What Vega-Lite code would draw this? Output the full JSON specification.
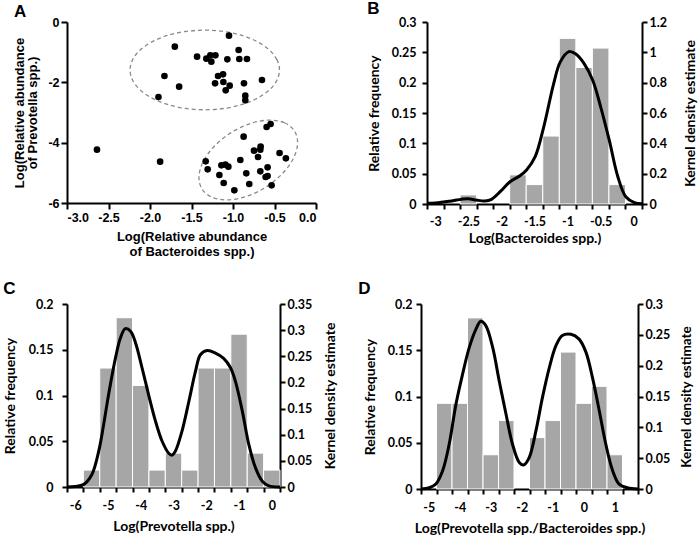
{
  "$schema": "https://vega.github.io/schema/vega-lite/v6.json",
  "padding": {"left": 3, "top": 0, "right": 0, "bottom": 0},
  "background": "white",
  "config": {
    "view": {"stroke": null},
    "axis": {"grid": false, "domainColor": "#000", "tickColor": "#000", "labelColor": "#000", "titleColor": "#000", "domainWidth": 2, "tickWidth": 2, "zindex": 1}
  },
  "datasets": {
    "ptsA": [
      {"x": -1.048, "y": -0.453}, {"x": -1.701, "y": -0.818}, {"x": -0.932, "y": -0.928}, {"x": -1.433, "y": -1.149},
      {"x": -1.321, "y": -1.215}, {"x": -1.273, "y": -1.105}, {"x": -1.212, "y": -1.105}, {"x": -1.261, "y": -1.315},
      {"x": -1.068, "y": -1.238}, {"x": -0.924, "y": -1.227}, {"x": -0.832, "y": -1.227}, {"x": -1.826, "y": -1.79},
      {"x": -1.649, "y": -2.144}, {"x": -1.898, "y": -2.486}, {"x": -1.18, "y": -1.79}, {"x": -1.12, "y": -1.735},
      {"x": -1.216, "y": -2.033}, {"x": -1.116, "y": -1.989}, {"x": -1.04, "y": -2.11}, {"x": -1.088, "y": -2.265},
      {"x": -0.868, "y": -2.033}, {"x": -0.651, "y": -1.923}, {"x": -0.852, "y": -2.442}, {"x": -0.852, "y": -2.597},
      {"x": -0.547, "y": -3.381}, {"x": -0.595, "y": -3.481}, {"x": -0.872, "y": -3.801}, {"x": -0.747, "y": -4.265},
      {"x": -0.667, "y": -4.133}, {"x": -0.671, "y": -4.232}, {"x": -0.699, "y": -4.475}, {"x": -0.439, "y": -4.343},
      {"x": -0.363, "y": -4.519}, {"x": -1.329, "y": -4.619}, {"x": -1.305, "y": -4.884}, {"x": -1.14, "y": -4.751},
      {"x": -1.092, "y": -4.729}, {"x": -1.056, "y": -4.796}, {"x": -0.912, "y": -4.575}, {"x": -1.164, "y": -5.072},
      {"x": -1.112, "y": -5.337}, {"x": -0.84, "y": -5.017}, {"x": -0.984, "y": -5.58}, {"x": -0.804, "y": -5.37},
      {"x": -0.671, "y": -4.95}, {"x": -0.583, "y": -4.818}, {"x": -0.607, "y": -5.138}, {"x": -0.583, "y": -5.105},
      {"x": -0.535, "y": -5.414}, {"x": -2.639, "y": -4.232}, {"x": -1.878, "y": -4.63}
    ],
    "ellA": [
      {"e": 1, "i": 0, "x": -0.44, "y": -1.59}, {"e": 1, "i": 1, "x": -0.471, "y": -1.248}, {"e": 1, "i": 2, "x": -0.561, "y": -0.93},
      {"e": 1, "i": 3, "x": -0.704, "y": -0.657}, {"e": 1, "i": 4, "x": -0.89, "y": -0.447}, {"e": 1, "i": 5, "x": -1.107, "y": -0.315},
      {"e": 1, "i": 6, "x": -1.34, "y": -0.27}, {"e": 1, "i": 7, "x": -1.573, "y": -0.315}, {"e": 1, "i": 8, "x": -1.79, "y": -0.447},
      {"e": 1, "i": 9, "x": -1.976, "y": -0.657}, {"e": 1, "i": 10, "x": -2.119, "y": -0.93}, {"e": 1, "i": 11, "x": -2.209, "y": -1.248},
      {"e": 1, "i": 12, "x": -2.24, "y": -1.59}, {"e": 1, "i": 13, "x": -2.209, "y": -1.932}, {"e": 1, "i": 14, "x": -2.119, "y": -2.25},
      {"e": 1, "i": 15, "x": -1.976, "y": -2.523}, {"e": 1, "i": 16, "x": -1.79, "y": -2.733}, {"e": 1, "i": 17, "x": -1.573, "y": -2.865},
      {"e": 1, "i": 18, "x": -1.34, "y": -2.91}, {"e": 1, "i": 19, "x": -1.107, "y": -2.865}, {"e": 1, "i": 20, "x": -0.89, "y": -2.733},
      {"e": 1, "i": 21, "x": -0.704, "y": -2.523}, {"e": 1, "i": 22, "x": -0.561, "y": -2.25}, {"e": 1, "i": 23, "x": -0.471, "y": -1.932},
      {"e": 2, "i": 0, "x": -0.2585, "y": -3.615}, {"e": 2, "i": 1, "x": -0.38, "y": -3.34}, {"e": 2, "i": 2, "x": -0.568, "y": -3.253},
      {"e": 2, "i": 3, "x": -0.7925, "y": -3.367}, {"e": 2, "i": 4, "x": -1.022, "y": -3.666}, {"e": 2, "i": 5, "x": -1.2195, "y": -4.103},
      {"e": 2, "i": 6, "x": -1.356, "y": -4.611}, {"e": 2, "i": 7, "x": -1.41, "y": -5.114}, {"e": 2, "i": 8, "x": -1.3735, "y": -5.535},
      {"e": 2, "i": 9, "x": -1.252, "y": -5.81}, {"e": 2, "i": 10, "x": -1.064, "y": -5.897}, {"e": 2, "i": 11, "x": -0.8395, "y": -5.783},
      {"e": 2, "i": 12, "x": -0.61, "y": -5.484}, {"e": 2, "i": 13, "x": -0.4125, "y": -5.047}, {"e": 2, "i": 14, "x": -0.276, "y": -4.539},
      {"e": 2, "i": 15, "x": -0.222, "y": -4.036}
    ],
    "barsB": [
      {"lo": -2.625, "hi": -2.375, "f": 0.015}, {"lo": -1.875, "hi": -1.625, "f": 0.048}, {"lo": -1.625, "hi": -1.375, "f": 0.032},
      {"lo": -1.375, "hi": -1.125, "f": 0.112}, {"lo": -1.125, "hi": -0.875, "f": 0.273}, {"lo": -0.875, "hi": -0.625, "f": 0.225},
      {"lo": -0.625, "hi": -0.375, "f": 0.257}, {"lo": -0.375, "hi": -0.125, "f": 0.032}
    ],
    "kdeB": [
      {"x": -3.12, "d": 0.005}, {"x": -3.0, "d": 0.007}, {"x": -2.79, "d": 0.018}, {"x": -2.6, "d": 0.032}, {"x": -2.5, "d": 0.035},
      {"x": -2.38, "d": 0.026}, {"x": -2.25, "d": 0.02}, {"x": -2.15, "d": 0.031}, {"x": -2.02, "d": 0.081}, {"x": -1.87, "d": 0.147},
      {"x": -1.72, "d": 0.186}, {"x": -1.62, "d": 0.224}, {"x": -1.49, "d": 0.312}, {"x": -1.36, "d": 0.509}, {"x": -1.21, "d": 0.794},
      {"x": -1.11, "d": 0.937}, {"x": -0.98, "d": 1.005}, {"x": -0.88, "d": 0.99}, {"x": -0.75, "d": 0.926}, {"x": -0.62, "d": 0.816},
      {"x": -0.5, "d": 0.641}, {"x": -0.37, "d": 0.421}, {"x": -0.24, "d": 0.18}, {"x": -0.12, "d": 0.048}, {"x": 0.01, "d": 0.009},
      {"x": 0.125, "d": 0.001}
    ],
    "barsC": [
      {"lo": -5.75, "hi": -5.25, "f": 0.0185}, {"lo": -5.25, "hi": -4.75, "f": 0.13}, {"lo": -4.75, "hi": -4.25, "f": 0.185},
      {"lo": -4.25, "hi": -3.75, "f": 0.111}, {"lo": -3.75, "hi": -3.25, "f": 0.0185}, {"lo": -3.25, "hi": -2.75, "f": 0.037},
      {"lo": -2.75, "hi": -2.25, "f": 0.0185}, {"lo": -2.25, "hi": -1.75, "f": 0.13}, {"lo": -1.75, "hi": -1.25, "f": 0.13},
      {"lo": -1.25, "hi": -0.75, "f": 0.167}, {"lo": -0.75, "hi": -0.25, "f": 0.037}, {"lo": -0.25, "hi": 0.25, "f": 0.0185}
    ],
    "kdeC": [
      {"x": -6.25, "d": 0}, {"x": -6.0, "d": 0.001}, {"x": -5.74, "d": 0.005}, {"x": -5.49, "d": 0.024}, {"x": -5.28, "d": 0.069},
      {"x": -5.13, "d": 0.12}, {"x": -4.98, "d": 0.177}, {"x": -4.77, "d": 0.247}, {"x": -4.62, "d": 0.285}, {"x": -4.47, "d": 0.303},
      {"x": -4.31, "d": 0.298}, {"x": -4.16, "d": 0.276}, {"x": -3.96, "d": 0.228}, {"x": -3.75, "d": 0.174}, {"x": -3.55, "d": 0.126},
      {"x": -3.35, "d": 0.088}, {"x": -3.14, "d": 0.064}, {"x": -3.05, "d": 0.061}, {"x": -2.94, "d": 0.069}, {"x": -2.74, "d": 0.107},
      {"x": -2.53, "d": 0.164}, {"x": -2.33, "d": 0.221}, {"x": -2.18, "d": 0.253}, {"x": -1.97, "d": 0.261}, {"x": -1.72, "d": 0.256},
      {"x": -1.47, "d": 0.246}, {"x": -1.26, "d": 0.228}, {"x": -1.11, "d": 0.202}, {"x": -0.9, "d": 0.145}, {"x": -0.7, "d": 0.081},
      {"x": -0.5, "d": 0.037}, {"x": -0.29, "d": 0.011}, {"x": -0.09, "d": 0.002}, {"x": 0.25, "d": 0}
    ],
    "barsD": [
      {"lo": -4.75, "hi": -4.25, "f": 0.0926}, {"lo": -4.25, "hi": -3.75, "f": 0.0926}, {"lo": -3.75, "hi": -3.25, "f": 0.185},
      {"lo": -3.25, "hi": -2.75, "f": 0.037}, {"lo": -2.75, "hi": -2.25, "f": 0.074}, {"lo": -1.75, "hi": -1.25, "f": 0.0556},
      {"lo": -1.25, "hi": -0.75, "f": 0.074}, {"lo": -0.75, "hi": -0.25, "f": 0.148}, {"lo": -0.25, "hi": 0.25, "f": 0.0926},
      {"lo": 0.25, "hi": 0.75, "f": 0.111}, {"lo": 0.75, "hi": 1.25, "f": 0.037}
    ],
    "kdeD": [
      {"x": -5.25, "d": 0}, {"x": -4.98, "d": 0.002}, {"x": -4.77, "d": 0.008}, {"x": -4.55, "d": 0.03}, {"x": -4.34, "d": 0.073},
      {"x": -4.12, "d": 0.138}, {"x": -3.91, "d": 0.186}, {"x": -3.69, "d": 0.23}, {"x": -3.48, "d": 0.259}, {"x": -3.32, "d": 0.272},
      {"x": -3.16, "d": 0.265}, {"x": -2.94, "d": 0.23}, {"x": -2.73, "d": 0.176}, {"x": -2.51, "d": 0.122}, {"x": -2.3, "d": 0.073},
      {"x": -2.08, "d": 0.043}, {"x": -1.94, "d": 0.039}, {"x": -1.76, "d": 0.051}, {"x": -1.54, "d": 0.095}, {"x": -1.33, "d": 0.149},
      {"x": -1.11, "d": 0.197}, {"x": -0.9, "d": 0.232}, {"x": -0.69, "d": 0.249}, {"x": -0.41, "d": 0.251}, {"x": -0.15, "d": 0.243},
      {"x": 0.07, "d": 0.222}, {"x": 0.28, "d": 0.181}, {"x": 0.5, "d": 0.127}, {"x": 0.71, "d": 0.073}, {"x": 0.93, "d": 0.03},
      {"x": 1.14, "d": 0.008}, {"x": 1.41, "d": 0.002}, {"x": 1.75, "d": 0}
    ]
  },
  "vconcat": [
    {
      "hconcat": [
        {
          "width": 249, "height": 181,
          "title": {"text": "A", "anchor": "start", "frame": "bounds", "font": "Liberation Sans", "fontSize": 17, "fontWeight": "bold", "color": "#000", "offset": -5},
          "encoding": {
            "x": {"field": "x", "type": "quantitative", "scale": {"domain": [-3, 0], "nice": false, "zero": false},
              "axis": {"values": [-3, -2.5, -2, -1.5, -1, -0.5, 0], "format": ".1f", "labelExpr": "replace(datum.label, '\u2212', '-')",
                "title": ["Log(Relative abundance", "of Bacteroides spp.)"], "titleLineHeight": 15, "titlePadding": 7,
                "labelFont": "Liberation Sans", "labelFontSize": 12.5, "labelFontWeight": "bold", "labelPadding": 2, "tickSize": 6,
                "titleFont": "Liberation Sans", "titleFontSize": 13, "titleFontWeight": "bold"}},
            "y": {"field": "y", "type": "quantitative", "scale": {"domain": [-6, 0], "nice": false, "zero": false},
              "axis": {"values": [-6, -4, -2, 0], "format": "d", "labelExpr": "replace(datum.label, '\u2212', '-')",
                "title": ["Log(Relative abundance", "of Prevotella spp.)"], "titleLineHeight": 13, "titlePadding": 8,
                "labelFont": "Liberation Sans", "labelFontSize": 12.5, "labelFontWeight": "bold", "labelPadding": 2, "tickSize": 6,
                "titleFont": "Liberation Sans", "titleFontSize": 13, "titleFontWeight": "bold"}}
          },
          "layer": [
            {"data": {"name": "ellA"}, "mark": {"type": "line", "interpolate": "cardinal-closed", "stroke": "#8a8a8a", "strokeWidth": 1.3, "strokeDash": [4, 3]},
              "encoding": {"detail": {"field": "e"}, "order": {"field": "i", "type": "quantitative"}}},
            {"data": {"name": "ptsA"}, "mark": {"type": "circle", "size": 44, "color": "#000", "opacity": 1}}
          ]
        },
        {
          "width": 215, "height": 182,
          "title": {"text": "B", "anchor": "start", "frame": "bounds", "font": "Liberation Sans", "fontSize": 17, "fontWeight": "bold", "color": "#000", "offset": -2},
          "layer": [
            {"data": {"name": "barsB"}, "mark": {"type": "bar", "color": "#a6a6a6", "stroke": "#ffffff", "strokeWidth": 1},
              "encoding": {
                "x": {"field": "lo", "type": "quantitative", "scale": {"domain": [-3.125, 0.125], "nice": false, "zero": false},
                  "axis": {"orient": "bottom", "values": [-3.125, -2.875, -2.625, -2.375, -2.125, -1.875, -1.625, -1.375, -1.125, -0.875, -0.625, -0.375, -0.125, 0.125], "labels": false, "title": null, "tickSize": 5}},
                "x2": {"field": "hi"},
                "y": {"field": "f", "type": "quantitative", "scale": {"domain": [0, 0.3], "nice": false},
                  "axis": {"orient": "left", "values": [0, 0.05, 0.1, 0.15, 0.2, 0.25, 0.3], "format": "~g", "title": "Relative frequency", "tickSize": 5, "labelPadding": 6,
                    "labelFont": "Lato", "labelFontSize": 12.5, "labelFontWeight": "bold", "titleFont": "Lato", "titleFontSize": 14, "titleFontWeight": "bold", "titlePadding": 10}},
                "y2": {"datum": 0}
              }},
            {"data": {"name": "kdeB"}, "mark": {"type": "line", "color": "#000", "strokeWidth": 3, "interpolate": "catmull-rom"},
              "encoding": {
                "x": {"field": "x", "type": "quantitative", "scale": {"domain": [-3.125, 0.125], "nice": false, "zero": false},
                  "axis": {"orient": "bottom", "values": [-3, -2.5, -2, -1.5, -1, -0.5, 0], "format": "~g", "labelExpr": "replace(datum.label, '\u2212', '-')", "ticks": false, "domain": false, "tickSize": 0, "labelPadding": 11,
                    "title": "Log(Bacteroides spp.)", "labelFont": "Lato", "labelFontSize": 12.5, "labelFontWeight": "bold", "titleFont": "Lato", "titleFontSize": 14, "titleFontWeight": "bold", "titlePadding": 4}},
                "y": {"field": "d", "type": "quantitative", "scale": {"domain": [0, 1.2], "nice": false},
                  "axis": {"orient": "right", "values": [0, 0.2, 0.4, 0.6, 0.8, 1, 1.2], "format": "~g", "title": "Kernel density estimate", "titleAngle": 270, "titleBaseline": "top", "tickSize": 5, "labelPadding": 2,
                    "labelFont": "Lato", "labelFontSize": 12.5, "labelFontWeight": "bold", "titleFont": "Lato", "titleFontSize": 14, "titleFontWeight": "bold", "titlePadding": 17}}
              }}
          ],
          "resolve": {"scale": {"y": "independent"}, "axis": {"x": "independent", "y": "independent"}}
        }
      ],
      "spacing": 50
    },
    {
      "hconcat": [
        {
          "width": 213, "height": 183,
          "title": {"text": "C", "anchor": "start", "frame": "bounds", "font": "Liberation Sans", "fontSize": 17, "fontWeight": "bold", "color": "#000", "offset": 0},
          "layer": [
            {"data": {"name": "barsC"}, "mark": {"type": "bar", "color": "#a6a6a6", "stroke": "#ffffff", "strokeWidth": 1},
              "encoding": {
                "x": {"field": "lo", "type": "quantitative", "scale": {"domain": [-6.25, 0.25], "nice": false, "zero": false},
                  "axis": {"orient": "bottom", "values": [-6.25, -5.75, -5.25, -4.75, -4.25, -3.75, -3.25, -2.75, -2.25, -1.75, -1.25, -0.75, -0.25, 0.25], "labels": false, "title": null, "tickSize": 5}},
                "x2": {"field": "hi"},
                "y": {"field": "f", "type": "quantitative", "scale": {"domain": [0, 0.2], "nice": false},
                  "axis": {"orient": "left", "values": [0, 0.05, 0.1, 0.15, 0.2], "format": "~g", "title": "Relative frequency", "tickSize": 5, "labelPadding": 9,
                    "labelFont": "Lato", "labelFontSize": 12.5, "labelFontWeight": "bold", "titleFont": "Lato", "titleFontSize": 14, "titleFontWeight": "bold", "titlePadding": 11}},
                "y2": {"datum": 0}
              }},
            {"data": {"name": "kdeC"}, "mark": {"type": "line", "color": "#000", "strokeWidth": 3, "interpolate": "catmull-rom"},
              "encoding": {
                "x": {"field": "x", "type": "quantitative", "scale": {"domain": [-6.25, 0.25], "nice": false, "zero": false},
                  "axis": {"orient": "bottom", "values": [-6, -5, -4, -3, -2, -1, 0], "format": "~g", "labelExpr": "replace(datum.label, '\u2212', '-')", "ticks": false, "domain": false, "tickSize": 0, "labelPadding": 12,
                    "title": "Log(Prevotella spp.)", "labelFont": "Lato", "labelFontSize": 12.5, "labelFontWeight": "bold", "titleFont": "Lato", "titleFontSize": 14, "titleFontWeight": "bold", "titlePadding": 8}},
                "y": {"field": "d", "type": "quantitative", "scale": {"domain": [0, 0.35], "nice": false},
                  "axis": {"orient": "right", "values": [0, 0.05, 0.1, 0.15, 0.2, 0.25, 0.3, 0.35], "format": "~g", "title": "Kernel density estimate", "titleAngle": 270, "titleBaseline": "top", "tickSize": 5, "labelPadding": 2,
                    "labelFont": "Lato", "labelFontSize": 12.5, "labelFontWeight": "bold", "titleFont": "Lato", "titleFontSize": 14, "titleFontWeight": "bold", "titlePadding": 12}}
              }}
          ],
          "resolve": {"scale": {"y": "independent"}, "axis": {"x": "independent", "y": "independent"}}
        },
        {
          "width": 217, "height": 185,
          "title": {"text": "D", "anchor": "start", "frame": "bounds", "font": "Liberation Sans", "fontSize": 17, "fontWeight": "bold", "color": "#000", "offset": 0, "dx": -5},
          "layer": [
            {"data": {"name": "barsD"}, "mark": {"type": "bar", "color": "#a6a6a6", "stroke": "#ffffff", "strokeWidth": 1},
              "encoding": {
                "x": {"field": "lo", "type": "quantitative", "scale": {"domain": [-5.25, 1.75], "nice": false, "zero": false},
                  "axis": {"orient": "bottom", "values": [-5.25, -4.75, -4.25, -3.75, -3.25, -2.75, -2.25, -1.75, -1.25, -0.75, -0.25, 0.25, 0.75, 1.25, 1.75], "labels": false, "title": null, "tickSize": 5}},
                "x2": {"field": "hi"},
                "y": {"field": "f", "type": "quantitative", "scale": {"domain": [0, 0.2], "nice": false},
                  "axis": {"orient": "left", "values": [0, 0.05, 0.1, 0.15, 0.2], "format": "~g", "title": "Relative frequency", "tickSize": 5, "labelPadding": 4,
                    "labelFont": "Lato", "labelFontSize": 12.5, "labelFontWeight": "bold", "titleFont": "Lato", "titleFontSize": 14, "titleFontWeight": "bold", "titlePadding": 10}},
                "y2": {"datum": 0}
              }},
            {"data": {"name": "kdeD"}, "mark": {"type": "line", "color": "#000", "strokeWidth": 3, "interpolate": "catmull-rom"},
              "encoding": {
                "x": {"field": "x", "type": "quantitative", "scale": {"domain": [-5.25, 1.75], "nice": false, "zero": false},
                  "axis": {"orient": "bottom", "values": [-5, -4, -3, -2, -1, 0, 1], "format": "~g", "labelExpr": "replace(datum.label, '\u2212', '-')", "ticks": false, "domain": false, "tickSize": 0, "labelPadding": 12,
                    "title": "Log(Prevotella spp./Bacteroides spp.)", "labelFont": "Lato", "labelFontSize": 12.5, "labelFontWeight": "bold", "titleFont": "Lato", "titleFontSize": 14, "titleFontWeight": "bold", "titlePadding": 8}},
                "y": {"field": "d", "type": "quantitative", "scale": {"domain": [0, 0.3], "nice": false},
                  "axis": {"orient": "right", "values": [0, 0.05, 0.1, 0.15, 0.2, 0.25, 0.3], "format": "~g", "title": "Kernel density estimate", "titleAngle": 270, "titleBaseline": "top", "tickSize": 5, "labelPadding": 2,
                    "labelFont": "Lato", "labelFontSize": 12.5, "labelFontWeight": "bold", "titleFont": "Lato", "titleFontSize": 13.5, "titleFontWeight": "bold", "titlePadding": 10}}
              }}
          ],
          "resolve": {"scale": {"y": "independent"}, "axis": {"x": "independent", "y": "independent"}}
        }
      ],
      "spacing": 20
    }
  ],
  "spacing": 21
}
